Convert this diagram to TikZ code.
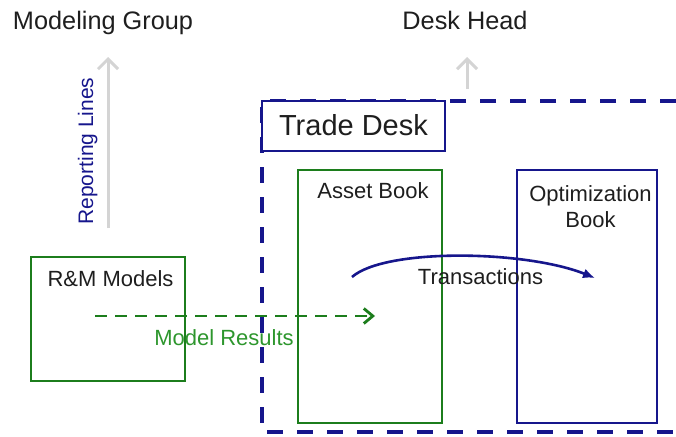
\documentclass[tikz,border=0pt]{standalone}
\usepackage{fontspec}
\setmainfont{Liberation Sans}
\usetikzlibrary{arrows.meta}

\definecolor{deskblue}{RGB}{22,22,140}
\definecolor{modgreen}{RGB}{28,125,28}
\definecolor{resgreen}{RGB}{45,150,45}
\definecolor{linegrey}{RGB}{212,212,212}
\definecolor{inkgrey}{RGB}{30,30,30}

\begin{document}
\begin{tikzpicture}[x=1pt,y=-1pt,
  every node/.style={inner sep=0pt, outer sep=0pt, text=inkgrey},
  headtxt/.style={font=\fontsize{25.3}{29}\selectfont, anchor=base},
  boxtxt/.style={font=\fontsize{22}{26}\selectfont, anchor=base},
  greenbox/.style={draw=modgreen, line width=2.8pt, anchor=north west},
  bluebox/.style={draw=deskblue, line width=2.8pt, anchor=north west},
  upline/.style={draw=linegrey, line width=3pt, -{Straight Barb[length=10pt,width=20pt]}},
  deskframe/.style={draw=deskblue, line width=3.2pt, dash pattern=on 16pt off 14pt}]
\useasboundingbox (0,0) rectangle (676,436);

% top labels
\node[headtxt] (grp) at (103,30) {Modeling Group};
\node[headtxt] (head) at (465,30) {Desk Head};

% trade desk frame
\draw[deskframe] (676,101) -| (262,432) -- (676,432);
\node[bluebox, fill=white, minimum width=183pt, minimum height=50pt] (trade) at (262,101) {};
\node[anchor=base, font=\fontsize{29}{33}\selectfont] (tradeT) at (353.5,135) {Trade Desk};

% books
\node[greenbox, minimum width=144pt, minimum height=253pt] (asset) at (298,170) {};
\node[bluebox, minimum width=140pt, minimum height=253pt] (optim) at (517,170) {};
\node[boxtxt] (assetT) at (373,198) {Asset Book};
\node[boxtxt, anchor=north, align=center] (optimT) at (590.5,186) {Optimization\\Book};

% models
\node[greenbox, minimum width=154pt, minimum height=124pt] (rm) at (31,257) {};
\node[boxtxt] (rmT) at (110.5,286) {R\&M Models};

% reporting lines
\coordinate (rlFoot) at (108,228);
\coordinate (rlTip) at (108,57);
\draw[upline] (rlFoot) -- (rlTip);
\node[anchor=base, rotate=90, text=deskblue, font=\fontsize{21}{25}\selectfont] (rlT) at (93,151) {Reporting Lines};
\coordinate (dhFoot) at (467,89);
\coordinate (dhTip) at (467,57);
\draw[upline] (dhFoot) -- (dhTip);

% model results
\coordinate (mrStart) at (95,316);
\coordinate (mrEnd) at (375,316);
\draw[modgreen, line width=2.8pt, dash pattern=on 12pt off 8pt, -{Straight Barb[length=9pt,width=15pt]}] (mrStart) -- (mrEnd);
\node[boxtxt, text=resgreen] (mrT) at (224,345) {Model Results};

% transactions
\coordinate (txStart) at (352,277);
\coordinate (txEnd) at (595,278);
\draw[deskblue, line width=2.6pt, -{Latex[length=12pt,width=10pt]}] (txStart) .. controls (385,248) and (525,250) .. (txEnd);
\node[boxtxt] (txT) at (480.5,284) {Transactions};
\end{tikzpicture}
\end{document}
